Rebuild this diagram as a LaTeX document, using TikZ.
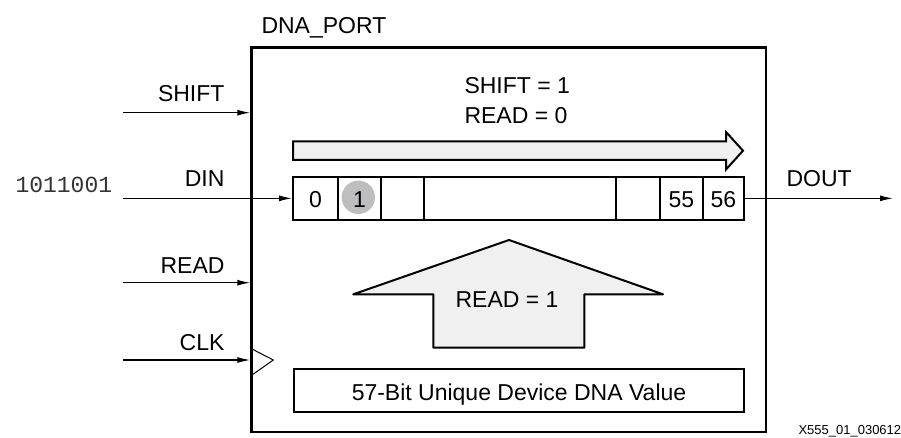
\documentclass[tikz,border=0pt]{standalone}
\usepackage{fontspec}
\setmainfont{Liberation Sans}
\newfontfamily\bitsfont{Liberation Mono}
\usepackage{xcolor}
\usetikzlibrary{arrows.meta}
\definecolor{arrowfill}{RGB}{240,240,240}
\definecolor{bitgray}{RGB}{190,190,192}

\begin{document}
\begin{tikzpicture}[x=1pt, y=-1pt,
		font=\fontsize{23}{27}\selectfont,
		sig/.style={-{Latex[length=13pt,width=6pt]}, line width=1.2pt},
		cell/.style={draw, line width=2pt, inner sep=0pt, minimum height=43.3pt}]
			\useasboundingbox (0,0) rectangle (901,438);
			
			% Port Body
			\node[draw, line width=2.5pt, inner sep=0pt, minimum width=514.5pt, minimum height=384.5pt] (port) at (508.75,239.75) {};
			\node[anchor=base west] (portname) at (258,34) {DNA\_PORT};
			
			% Inputs
			\coordinate (shiftin) at (123,112.7);
			\coordinate (dinin) at (123,198.35);
			\coordinate (readin) at (123,282.7);
			\coordinate (clkin) at (123,360);
			\draw[sig] (shiftin) -- (shiftin -| port.west);
			\draw[sig] (readin) -- (readin -| port.west);
			\draw[sig] (clkin) -- (clkin -| port.west);
			\node[anchor=base east] (shiftname) at (228,102) {SHIFT};
			\node[anchor=base east] (dinname) at (228,187) {DIN};
			\node[anchor=base east] (readname) at (228,273) {READ};
			\node[anchor=base east] (clkname) at (228,350) {CLK};
			\node[anchor=base west, text=black!80, font=\bitsfont\fontsize{23}{27}\selectfont] (bits) at (12,192.5) {1011001};
			
			% Clock Input
			\draw[line width=1pt] (252,349) -- (273.3,360) -- (252,375);
			
			% Shift Arrow
			\draw[line width=2pt, fill=arrowfill] (293,141.5) -- (726,141.5) -- (726,132) -- (743,150.7) -- (726,169.5) -- (726,159.8) -- (293,159.8) -- cycle;
			\node[anchor=base west] (shifton) at (461,94) {SHIFT = 1};
			\node[anchor=base west] (readoff) at (461,124) {READ = 0};
			
			% Shift Register
			\node[cell, minimum width=451pt] (reg) at (518.5,198.35) {};
			\foreach \x in {338.3, 381, 424.3, 616, 660, 702.7}
				\draw[line width=2pt] (\x,0 |- reg.north) -- (\x,0 |- reg.south);
			\node[circle, fill=bitgray, inner sep=0pt, minimum size=33.4pt] (bitmark) at (358.3,197.3) {};
			\node[anchor=base] (bitzero) at (315.6,207.7) {0};
			\node[anchor=base] (bitone) at (359.6,207.7) {1};
			\node[anchor=base] (bitfive) at (681.3,207.7) {55};
			\node[anchor=base] (bitsix) at (723.3,207.7) {56};
			\draw[sig] (dinin) -- (reg.west);
			
			% Output
			\coordinate (doutend) at (893,198.35);
			\draw[sig] (reg.east) -- (doutend);
			\node[anchor=base west] (doutname) at (783,187) {DOUT};
			
			% Read Arrow
			\draw[line width=2pt, line join=round, fill=arrowfill] (433.3,347.7) -- (433.3,294.3) -- (353.3,294.3) -- (509,240) -- (663,294.3) -- (584.3,294.3) -- (584.3,347.7) -- cycle;
			\node[anchor=base] (readon) at (507,307.7) {READ = 1};
			
			% DNA Value
			\node[cell, minimum width=450pt, minimum height=43.5pt] (dnaval) at (519,390.3) {};
			\node[anchor=base] (dnatext) at (519,400) {57-Bit Unique Device DNA Value};
			
			\node[anchor=base west, font=\fontsize{13}{15}\selectfont] (figid) at (795,434.5) {X555\_01\_030612};
		\end{tikzpicture}
\end{document}
